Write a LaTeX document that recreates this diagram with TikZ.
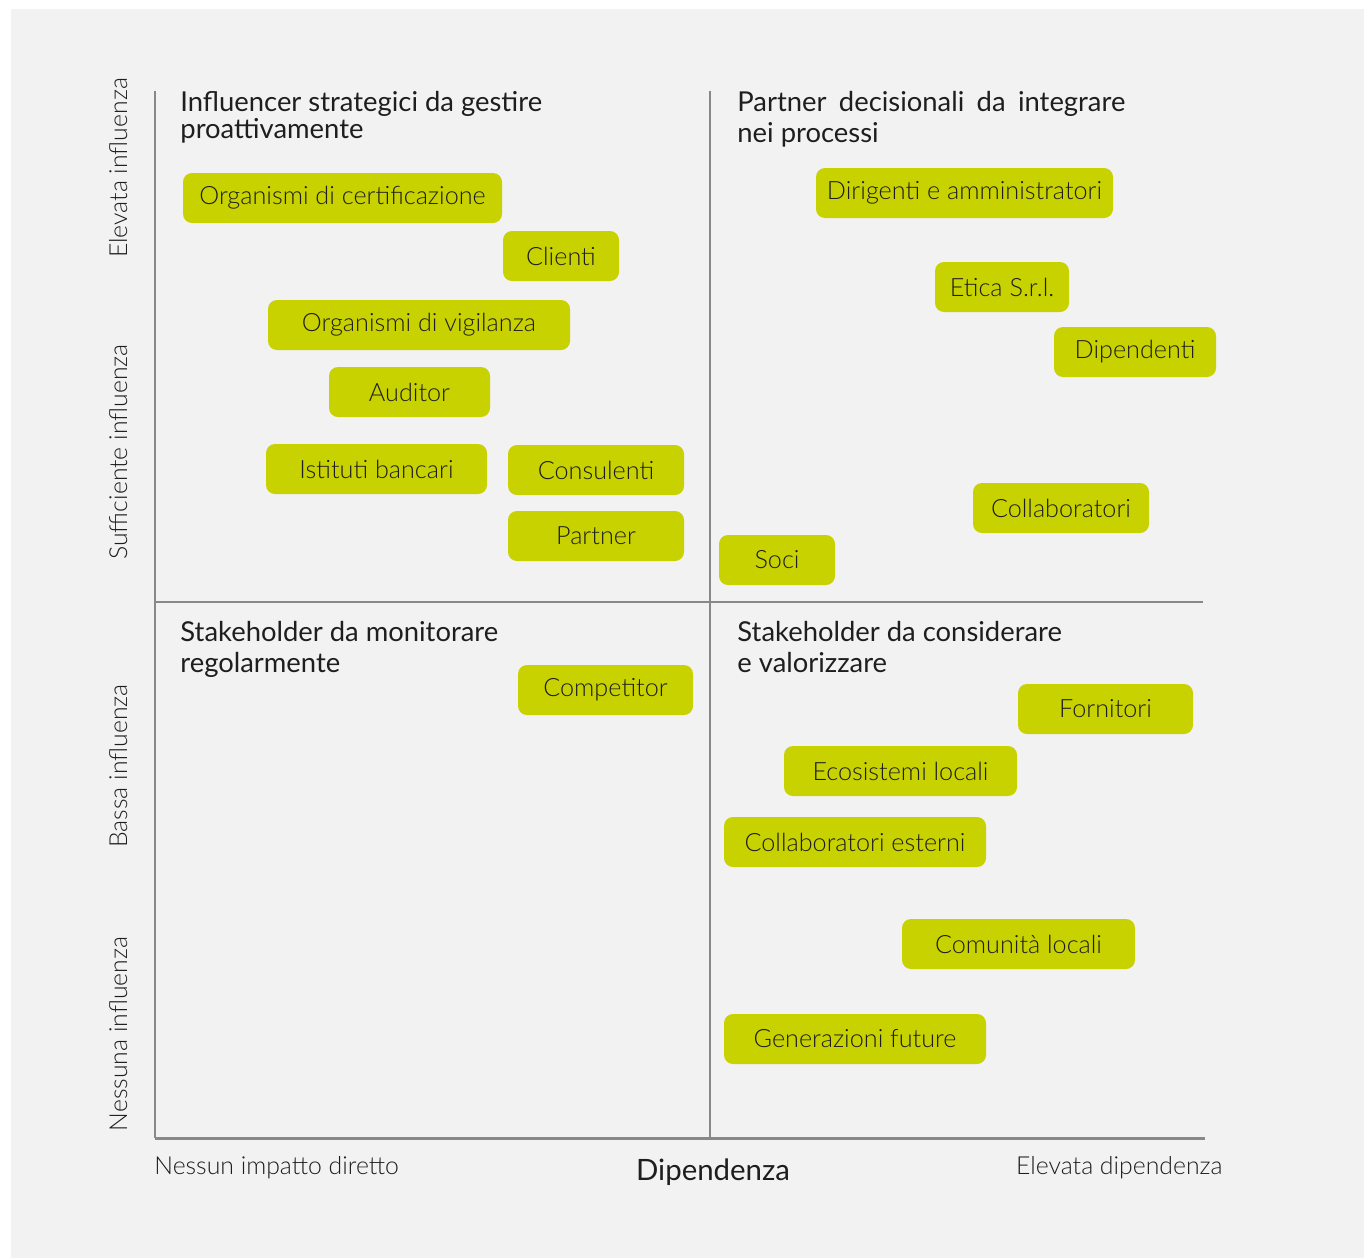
\documentclass[tikz,border=0pt]{standalone}
\usepackage{fontspec}
\setmainfont{Lato}
\newfontfamily\lightfont{Lato Light}
\definecolor{bggray}{RGB}{242,242,242}
\definecolor{tagyellow}{RGB}{200,210,0}
\definecolor{axisgray}{RGB}{136,136,136}
\definecolor{txtdark}{RGB}{30,30,30}

\begin{document}
\begin{tikzpicture}[x=0.5pt,y=-0.5pt,
		tag/.style={fill=tagyellow, rounded corners=4.5pt, inner sep=0pt,
			minimum height=25pt, minimum width=#1*0.5pt,
			font=\lightfont\fontsize{12.6}{15}\selectfont, text=txtdark},
		quadtitle/.style={anchor=base west, align=left, inner sep=0pt,
			font=\fontsize{13.7}{15.5}\selectfont, text=txtdark},
		axislabel/.style={anchor=base, inner sep=0pt,
			font=\lightfont\fontsize{12.4}{15}\selectfont, text=txtdark},
		axisline/.style={draw=axisgray, line width=1pt}]
		% background
		\fill [white] (0,0) rectangle (1364,1258);
		\fill [bggray] (11,9) rectangle (1364,1258);
		\useasboundingbox (0,0) rectangle (1364,1258);
		% axes and quadrants
		\draw [axisline] (155,91) -- (155,1138);
		\draw [axisline] (710,91) -- (710,1138);
		\draw [axisline] (155,602) -- (1203,602);
		\draw [axisline, line width=1.5pt] (155,1138) -- (1205,1138);
		% influence labels
		\node [axislabel, rotate=90] (elev) at (127,168) {Elevata influenza};
		\node [axislabel, rotate=90] (suff) at (127,452) {Sufficiente influenza};
		\node [axislabel, rotate=90] (bassa) at (127,766) {Bassa influenza};
		\node [axislabel, rotate=90] (nessuna) at (127,1034) {Nessuna influenza};
		% dependence labels
		\node [axislabel, anchor=base west] (nodip) at (154,1174) {Nessun impatto diretto};
		\node [axislabel, anchor=base east] (elevdip) at (1223,1174) {Elevata dipendenza};
		\node [axislabel, font=\fontsize{14.7}{16}\selectfont] (dip) at (713,1180) {Dipendenza};
		% quadrant titles (base = last line)
		\node [quadtitle] (q1) at (180,138) {Influencer strategici da gestire\\[-2pt]proattivamente};
		\node [quadtitle] (q2) at (737,142) {\makebox[194pt][s]{Partner decisionali da integrare}\\[0pt]nei processi};
		\node [quadtitle] (q3) at (180,672) {Stakeholder da monitorare\\[0pt]regolarmente};
		\node [quadtitle] (q4) at (737,672) {Stakeholder da considerare\\[0pt]e valorizzare};
		% stakeholders
		\node [tag=319] (cert) at (342.5,198) {Organismi di certificazione};
		\node [tag=116] (clienti) at (561,256) {Clienti};
		\node [tag=302] (vigil) at (419,325) {Organismi di vigilanza};
		\node [tag=161] (auditor) at (409.5,392) {Auditor};
		\node [tag=221] (banche) at (376.5,469) {Istituti bancari};
		\node [tag=176] (consul) at (596,470) {Consulenti};
		\node [tag=176] (partner) at (596,536) {Partner};
		\node [tag=116] (soci) at (777,560) {Soci};
		\node [tag=297] (dirig) at (964.5,193) {Dirigenti e amministratori};
		\node [tag=134] (etica) at (1002,287) {Etica S.r.l.};
		\node [tag=162] (dipend) at (1135,352) {Dipendenti};
		\node [tag=176] (collab) at (1061,508) {Collaboratori};
		\node [tag=175] (compet) at (605.5,690) {Competitor};
		\node [tag=175] (fornit) at (1105.5,709) {Fornitori};
		\node [tag=233] (ecosis) at (900.5,771) {Ecosistemi locali};
		\node [tag=262] (collext) at (855,842) {Collaboratori esterni};
		\node [tag=233] (comun) at (1018.5,944) {Comunità locali};
		\node [tag=262] (generaz) at (855,1039) {Generazioni future};
	\end{tikzpicture}
\end{document}
